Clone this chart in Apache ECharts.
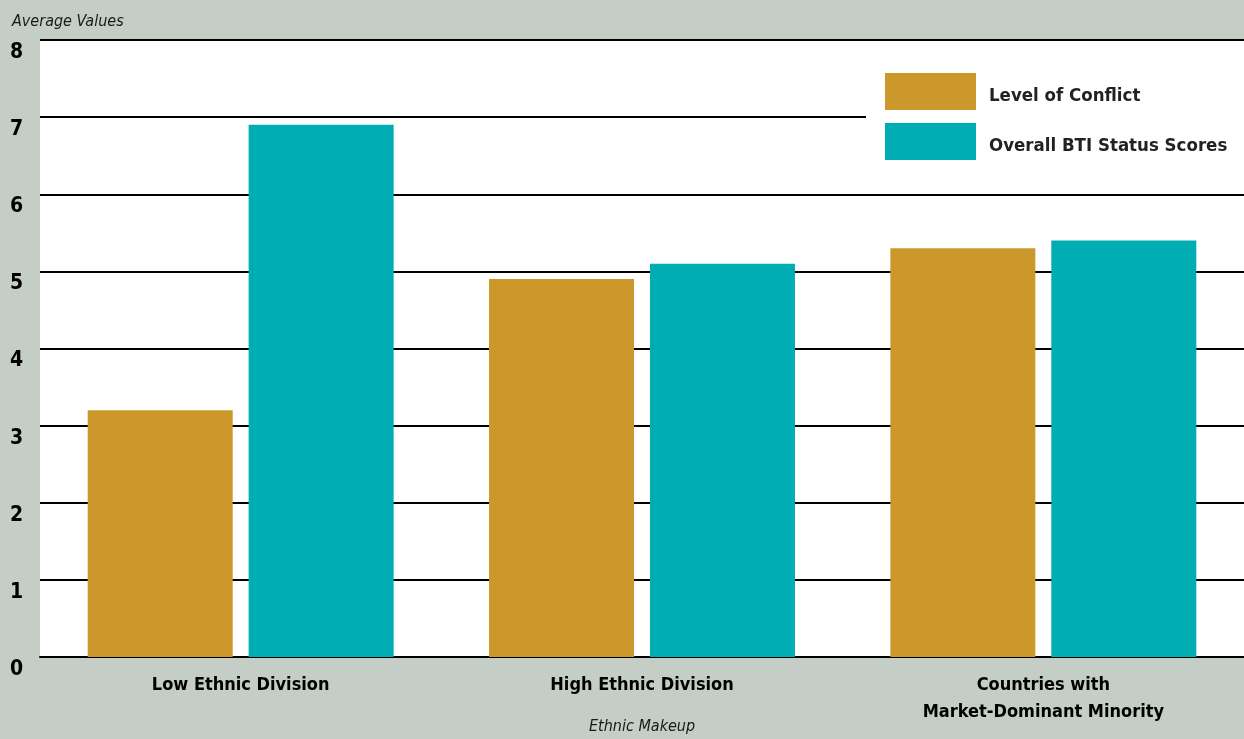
<!DOCTYPE html>
<html>
<head>
<meta charset="utf-8">
<title>Ethnic Makeup</title>
<script src="https://cdn.jsdelivr.net/npm/echarts@6/dist/echarts.min.js"></script>
<style>
  html, body { margin: 0; padding: 0; background: #c4cec6; }
  #main { width: 1244px; height: 739px; }
</style>
</head>
<body>
<div id="main"></div>
<script>
var categories = ['Low Ethnic Division', 'High Ethnic Division', 'Countries with\nMarket-Dominant Minority'];
var conflict = [3.2, 4.9, 5.3];
var btiStatus = [6.9, 5.1, 5.4];
var seriesNames = ['Level of Conflict', 'Overall BTI Status Scores'];

var FONT = '"DejaVu Sans Condensed", "Liberation Sans Narrow", sans-serif';
var chart = echarts.init(document.getElementById('main'));

chart.setOption({
  backgroundColor: '#c4cec6',
  animation: false,
  title: {
    text: 'Average Values',
    left: 7, top: 9,
    textStyle: { fontFamily: FONT, fontStyle: 'italic', fontWeight: 'normal', fontSize: 16, color: '#1a1a1a' }
  },
  legend: {
    data: seriesNames,
    orient: 'vertical',
    left: 866, top: 62,
    width: 364,
    backgroundColor: '#ffffff',
    padding: [11, 20, 14, 19],
    itemWidth: 91, itemHeight: 37, itemGap: 13,
    icon: 'rect',
    selectedMode: false,
    formatter: function (name) { return '{t|' + name + '}'; },
    textStyle: {
      rich: {
        t: { fontFamily: FONT, fontWeight: 'bold', fontSize: 18.5, color: '#222', padding: [9, 0, 0, 8] }
      }
    }
  },
  grid: { left: 40, right: 0, top: 40, bottom: 82, outerBoundsMode: 'none', containLabel: false, show: true, backgroundColor: '#ffffff', borderWidth: 0 },
  xAxis: {
    type: 'category',
    data: categories,
    name: 'Ethnic Makeup',
    nameLocation: 'middle',
    nameGap: 62,
    nameMoveOverlap: false,
    nameTextStyle: { fontFamily: FONT, fontStyle: 'italic', fontSize: 16, color: '#1a1a1a' },
    axisLine: { lineStyle: { color: '#000', width: 2 } },
    axisTick: { show: false },
    axisLabel: { fontFamily: FONT, fontWeight: 'bold', fontSize: 18, color: '#000', margin: 15, lineHeight: 27, verticalAlign: 'top' }
  },
  yAxis: {
    type: 'value',
    min: 0, max: 8, interval: 1,
    axisLine: { show: false },
    axisTick: { show: false },
    splitLine: { lineStyle: { color: '#000', width: 2 } },
    axisLabel: { fontFamily: FONT, fontWeight: 'bold', fontSize: 21, color: '#000', align: 'left', margin: 30, verticalAlign: 'top', padding: [2, 0, 0, 0] }
  },
  series: [
    { name: seriesNames[0], type: 'bar', data: conflict, barWidth: 145, barGap: '11%', itemStyle: { color: '#cc972b' } },
    { name: seriesNames[1], type: 'bar', data: btiStatus, barWidth: 145, barGap: '11%', itemStyle: { color: '#00adb3' } }
  ]
});
</script>
</body>
</html>
